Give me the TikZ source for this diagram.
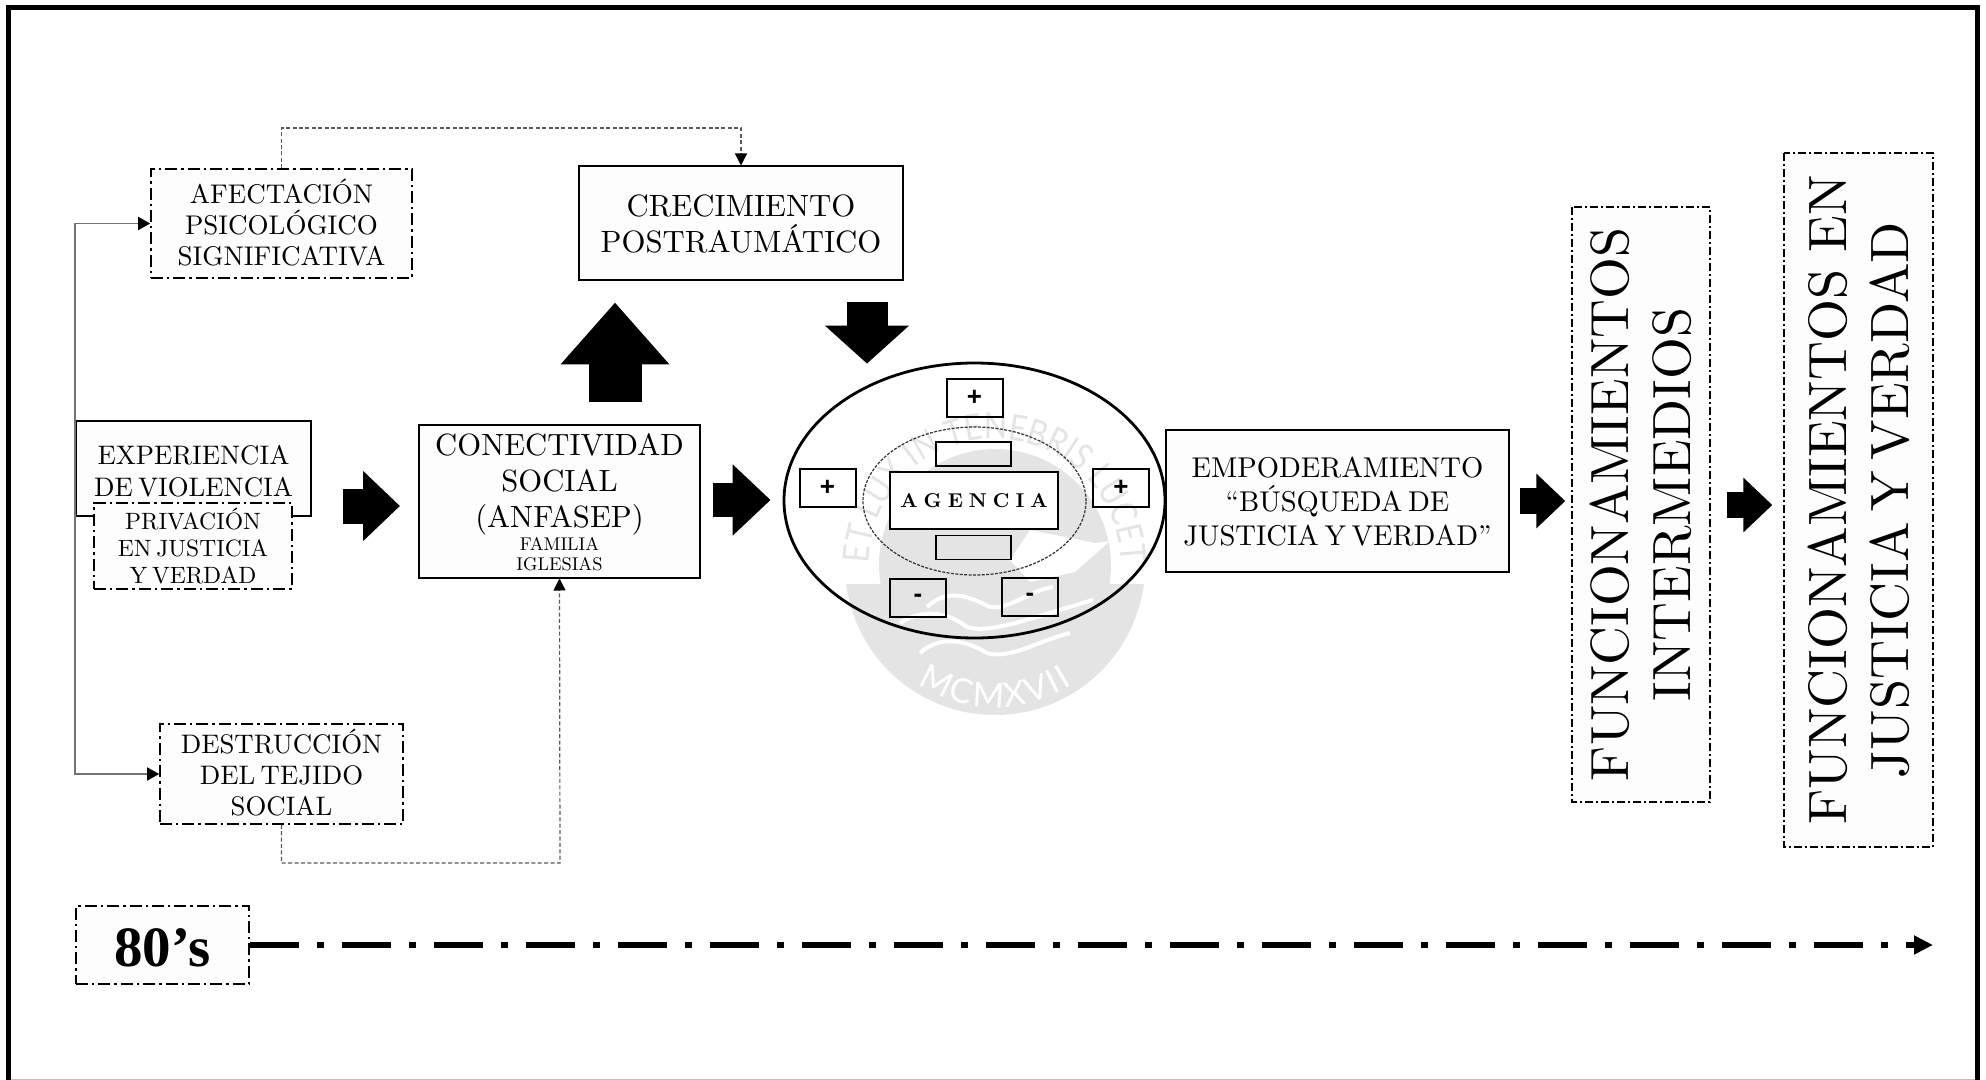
\documentclass[tikz,border=0pt]{standalone}
\usepackage{fontspec}
\setmainfont{lmroman10-regular.otf}[BoldFont=lmroman10-bold.otf]
\setsansfont{Liberation Sans}
\newfontfamily\yearfont{Liberation Serif}
\newfontfamily\sealfont{Lato}[FakeStretch=0.85]
\newfontfamily\sealwide{Lato}
\usetikzlibrary{arrows.meta,shapes.geometric,decorations.text}
\definecolor{sealgray}{HTML}{E4E4E4}
\definecolor{boxwhite}{HTML}{FDFDFD}
\tikzset{
    solidbox/.style={draw=black, line width=1pt, fill=boxwhite, inner sep=0pt, align=center, execute at begin node={\spaceskip=0.2em\relax}},
    dashbox/.style={solidbox, line width=0.8pt, dash pattern=on 6pt off 2pt on 1.2pt off 2pt},
    finebox/.style={dashbox, rotate=90, line width=0.7pt, dash pattern=on 4pt off 1.5pt on 1pt off 1.5pt},
    signbox/.style={draw=black, line width=1pt, inner sep=0pt, minimum width=28pt, minimum height=19pt, font=\sffamily\bfseries\fontsize{13}{13}\selectfont},
    emptybox/.style={draw=black, line width=0.8pt, inner sep=0pt, minimum width=37.5pt, minimum height=12pt},
    bigarrow/.style n args={3}{-{Triangle[length=#3,width=#2]}, line width=#1},
    thinarrow/.style={draw=black!55, line width=0.8pt, -{Triangle[length=6pt,width=6.5pt,black]}},
    dotarrow/.style={draw=black!65, line width=0.6pt, dash pattern=on 2pt off 1.2pt, -{Triangle[length=6pt,width=6pt,black]}},
}
\begin{document}
\begin{tikzpicture}[x=0.5pt, y=-0.5pt]
    \useasboundingbox (0,0) rectangle (1986,1080);
    \draw[line width=2.5pt] (8.5,1080) -- (8.5,7.5) -- (1977.5,7.5) -- (1977.5,1080);
    \draw[black!25, line width=0.5pt] (11,1079.5) -- (1975,1079.5);

    \coordinate (sealc) at (995,565);
    \fill[sealgray] (sealc) circle[radius=58pt];
    \begin{scope}
        \clip (820,584) rectangle (1170,730);
        \fill[sealgray] (sealc) circle[radius=75pt];
    \end{scope}
    \path[decorate, decoration={text along path, text align=center, text={|\sealfont\fontsize{18}{18}\selectfont\color{sealgray}|ET LUX IN TENEBRIS LUCET}}] ([shift={(190:63pt)}]sealc) arc[start angle=190, end angle=-10, radius=63pt];
    \path[decorate, decoration={text along path, text align=fit to path, text={|\sealwide\fontsize{17}{17}\selectfont\color{white}|MCMXVII}}] ([shift={(237:71pt)}]sealc) arc[start angle=237, end angle=303, radius=71pt];
    \fill[white] (1030,530) -- (1095,543) -- (1110,541) -- (1075,572) -- (1030,582) -- (1010,560) -- cycle;
    \draw[white, line width=2pt] (900,623) .. controls (920,610) and (945,610) .. (967,627) .. controls (990,635) and (1040,615) .. (1093,600);
    \draw[white, line width=2pt] (927,607) .. controls (950,585) and (975,600) .. (990,607) .. controls (1010,610) and (1030,590) .. (1053,587);
    \draw[white, line width=2pt] (920,653) .. controls (940,635) and (965,640) .. (987,653) .. controls (1010,660) and (1040,640) .. (1070,633);

    \node[solidbox, minimum width=162pt, minimum height=57pt, font=\fontsize{15.4}{18}\selectfont] at (741,223.5) (cre) {CRECIMIENTO\\POSTRAUMÁTICO};
    \node[dashbox, minimum width=130.5pt, minimum height=54.5pt, font=\fontsize{13.5}{15.5}\selectfont] at (281.5,223.5) (afe) {AFECTACIÓN\\PSICOLÓGICO\\SIGNIFICATIVA\rule[-1.3pt]{0pt}{1.3pt}};
    \node[solidbox, minimum width=117.5pt, minimum height=47.5pt, font=\fontsize{13.4}{16}\selectfont] at (193.5,468.5) (exp) {\rule{0pt}{12pt}EXPERIENCIA\\DE VIOLENCIA};
    \node[dashbox, minimum width=99pt, minimum height=43pt, font=\fontsize{11.8}{13.5}\selectfont] at (193,546) (pri) {PRIVACIÓN\\EN JUSTICIA\\Y VERDAD};
    \node[solidbox, minimum width=140.5pt, minimum height=76pt, font=\fontsize{15.35}{18}\selectfont] at (559.5,501.5) (con) {\rule{0pt}{12pt}CONECTIVIDAD\\SOCIAL\\(ANFASEP)\\[-6.5pt]{\fontsize{9.2}{10}\selectfont FAMILIA}\\[-8pt]{\fontsize{9.2}{10}\selectfont IGLESIAS}};
    \node[dashbox, minimum width=121.5pt, minimum height=50pt, font=\fontsize{13.4}{15.5}\selectfont] at (281.5,774) (des) {DESTRUCCIÓN\\DEL TEJIDO\\SOCIAL\rule[-1.3pt]{0pt}{1.3pt}};
    \node[ellipse, draw=black, line width=1.4pt, inner sep=0pt, minimum width=190.5pt, minimum height=137.5pt] at (974.5,500.5) (ell) {};
    \node[ellipse, draw=black!80, line width=0.6pt, dash pattern=on 1.5pt off 0.7pt, inner sep=0pt, minimum width=111.5pt, minimum height=74pt] at (974.5,501) (inn) {};
    \node[solidbox, line width=0.8pt, fill=white, minimum width=84pt, minimum height=28.5pt, font=\bfseries\fontsize{10}{11}\selectfont] at (974,500.5) (age) {\spaceskip=0.3em\relax A G E N C I A};
    \node[emptybox] at (973.5,454) (rtop) {};
    \node[emptybox] at (973.5,547.5) (rbot) {};
    \node[signbox] at (974.5,398) (ptop) {+};
    \node[signbox] at (827.5,488) (pleft) {+};
    \node[signbox] at (1121,488) (pright) {+};
    \node[signbox] at (918,598) (mleft) {-};
    \node[signbox] at (1030,597) (mright) {-};
    \node[solidbox, minimum width=171.5pt, minimum height=70.5pt, font=\fontsize{14.3}{17}\selectfont] at (1337.5,501) (emp) {\rule{0pt}{11.1pt}EMPODERAMIENTO\\``BÚSQUEDA DE\\JUSTICIA Y VERDAD''};
    \node[finebox, minimum width=297.5pt, minimum height=69pt, font=\fontsize{26.9}{31}\selectfont] at (1641,504.5) (fint) {FUNCIONAMIENTOS\\INTERMEDIOS};
    \node[finebox, minimum width=347pt, minimum height=74.5pt, font=\fontsize{27}{31}\selectfont] at (1858.5,500) (fjus) {FUNCIONAMIENTOS\hspace{3pt} EN\\JUSTICIA Y VERDAD};
    \node[dashbox, minimum width=86.5pt, minimum height=39pt, text height=21.5pt, text depth=0pt, font=\yearfont\bfseries\fontsize{28.5}{30}\selectfont] at (162.5,945) (year) {80’s};
    \coordinate (topturn) at (741,128);
    \coordinate (botturn) at (560,863);
    \coordinate (lineend) at (1933,945);

    \path [bigarrow={17.5pt}{34pt}{18.5pt}, shorten <=15.5pt, shorten >=9pt] (exp.east |- 0,506) edge (con.west |- 0,506);
    \path [bigarrow={17pt}{34.5pt}{19pt}, shorten <=6pt, shorten >=6pt] (con.east |- 0,500) edge (ell.west |- 0,500);
    \path [bigarrow={13pt}{26.5pt}{14.5pt}, shorten <=5pt, shorten >=3pt] (emp.east |- 0,501) edge (fint.north |- 0,501);
    \path [bigarrow={13pt}{26.5pt}{14.5pt}, shorten <=8pt, shorten >=5.5pt] (fint.south |- 0,505) edge (fjus.north |- 0,505);
    \path [bigarrow={26.5pt}{52.5pt}{31pt}, shorten <=11pt, shorten >=10.5pt] (con.north -| 615,0) edge (cre.south -| 615,0);
    \path [bigarrow={20.5pt}{41pt}{19pt}, shorten <=10.5pt, shorten >=-1pt] (cre.south -| 867,0) edge (ell.north -| 867,0);

    \draw[thinarrow] (exp.west) |- (afe.west);
    \draw[thinarrow] (exp.west) |- (des.west);
    \draw[dotarrow] (afe.north) |- (topturn) -- (cre.north);
    \draw[dotarrow] (des.south) |- (botturn) -- (con.south);
    \draw[line width=3pt, dash pattern=on 24.5pt off 9pt on 3.5pt off 9pt, -{Triangle[length=9.5pt,width=9pt]}] (year.east) -- (lineend);
\end{tikzpicture}
\end{document}
